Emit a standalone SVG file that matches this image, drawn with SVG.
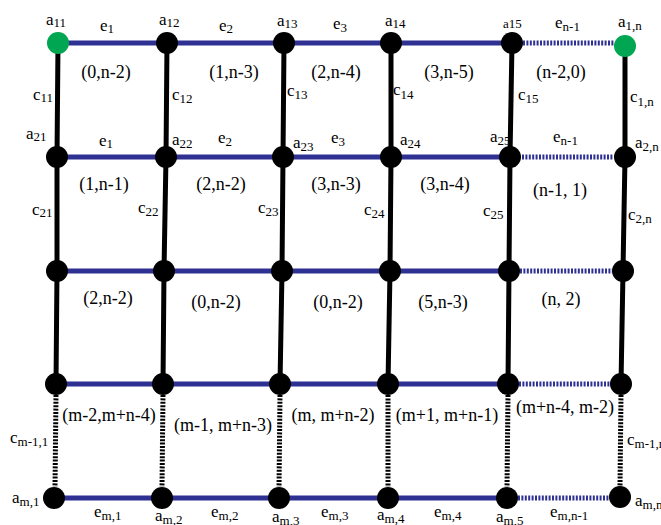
<svg xmlns="http://www.w3.org/2000/svg" width="661" height="525" viewBox="0 0 661 525">
<style>
text{font-family:"Liberation Serif","Times New Roman",serif;fill:#000}
.m{font-size:17px}
.f{font-size:18px}
.s{font-size:13px}
.sm{font-size:13px}
.h{stroke:#2e3192;stroke-width:5;fill:none}
.hd{stroke:#2e3192;stroke-width:5;fill:none;stroke-dasharray:2 1.4}
.v{stroke:#000;stroke-width:5;fill:none}
.vd{stroke:#000;stroke-width:5;fill:none;stroke-dasharray:2 1.4}
.n{fill:#000}
.g{fill:#00a651}
</style>
<rect width="661" height="525" fill="#fff"/>
<g id="connectors">
<!-- horizontal row 1 -->
<line class="h" x1="58" y1="43" x2="512" y2="43"/>
<line class="hd" x1="523" y1="43" x2="614" y2="43"/>
<!-- row 2 -->
<line class="h" x1="57" y1="157" x2="511" y2="157"/>
<line class="hd" x1="522" y1="157" x2="613" y2="157"/>
<!-- row 3 -->
<line class="h" x1="57" y1="271" x2="509" y2="271"/>
<line class="hd" x1="520" y1="271" x2="612" y2="271"/>
<!-- row 4 -->
<line class="h" x1="56" y1="384" x2="508" y2="384"/>
<line class="hd" x1="519" y1="384" x2="610" y2="384"/>
<!-- row 5 -->
<line class="h" x1="54" y1="498" x2="507" y2="498"/>
<line class="hd" x1="518" y1="498" x2="609" y2="498"/>
<!-- vertical solid rows 1-4 -->
<polyline class="v" points="58,43 57,157 57,271 56,384"/>
<polyline class="v" points="167,43 166,157 164,271 163,384"/>
<polyline class="v" points="284,43 283,157 282,271 280,384"/>
<polyline class="v" points="391,43 391,157 390,271 388,384"/>
<polyline class="v" points="512,43 510,157 509,271 508,384"/>
<polyline class="v" points="625,43 625,157 623,271 621,384"/>
<!-- vertical dotted rows 4-5 -->
<line class="vd" x1="56" y1="395" x2="55" y2="487"/>
<line class="vd" x1="163" y1="395" x2="162" y2="487"/>
<line class="vd" x1="280" y1="395" x2="279" y2="487"/>
<line class="vd" x1="388" y1="395" x2="388" y2="487"/>
<line class="vd" x1="508" y1="395" x2="507" y2="487"/>
<line class="vd" x1="621" y1="395" x2="620" y2="487"/>
</g>
<g id="edge-labels">
<text class="m" x="100" y="31">e<tspan class="s" dy="2">1</tspan></text>
<text class="m" x="219" y="31">e<tspan class="s" dy="2">2</tspan></text>
<text class="m" x="333" y="29">e<tspan class="s" dy="3">3</tspan></text>
<text class="m" x="555" y="28">e<tspan class="s" dy="3">n-1</tspan></text>
<text class="m" x="99" y="146">e<tspan class="s" dy="2">1</tspan></text>
<text class="m" x="218" y="143">e<tspan class="s" dy="3">2</tspan></text>
<text class="m" x="331" y="143">e<tspan class="s" dy="3">3</tspan></text>
<text class="m" x="553" y="142">e<tspan class="s" dy="3">n-1</tspan></text>
<text class="m" x="33" y="100">c<tspan class="s" dy="2">11</tspan></text>
<text class="m" x="172" y="100">c<tspan class="s" dy="3">12</tspan></text>
<text class="m" x="287" y="96">c<tspan class="s" dy="3">13</tspan></text>
<text class="m" x="393" y="95">c<tspan class="s" dy="4">14</tspan></text>
<text class="m" x="518" y="100">c<tspan class="s" dy="3">15</tspan></text>
<text class="m" x="630" y="102">c<tspan class="s" dy="4">1,n</tspan></text>
<text class="m" x="32" y="215">c<tspan class="s" dy="2">21</tspan></text>
<text class="m" x="138" y="213">c<tspan class="s" dy="3">22</tspan></text>
<text class="m" x="258" y="213">c<tspan class="s" dy="3">23</tspan></text>
<text class="m" x="364" y="215">c<tspan class="s" dy="3">24</tspan></text>
<text class="m" x="483" y="216">c<tspan class="s" dy="3">25</tspan></text>
<text class="m" x="628" y="220">c<tspan class="s" dy="3">2,n</tspan></text>
<text class="m" x="10" y="443">c<tspan class="s" dy="3">m-1,1</tspan></text>
<text class="m" x="627" y="445">c<tspan class="s" dy="3">m-1,n</tspan></text>
<text class="m" x="94" y="517">e<tspan class="s" dy="3">m,1</tspan></text>
<text class="m" x="211" y="517">e<tspan class="s" dy="3">m,2</tspan></text>
<text class="m" x="321" y="517">e<tspan class="s" dy="3">m,3</tspan></text>
<text class="m" x="434" y="517">e<tspan class="s" dy="3">m,4</tspan></text>
<text class="m" x="550" y="517">e<tspan class="s" dy="3">m,n-1</tspan></text>
</g>
<g id="face-labels" text-anchor="middle">
<text class="f" x="106" y="78">(0,n-2)</text>
<text class="f" x="234" y="78">(1,n-3)</text>
<text class="f" x="336" y="78">(2,n-4)</text>
<text class="f" x="449" y="78">(3,n-5)</text>
<text class="f" x="561" y="78">(n-2,0)</text>
<text class="f" x="104" y="190">(1,n-1)</text>
<text class="f" x="221" y="190">(2,n-2)</text>
<text class="f" x="336" y="190">(3,n-3)</text>
<text class="f" x="445" y="190">(3,n-4)</text>
<text class="f" x="560" y="196">(n-1, 1)</text>
<text class="f" x="108" y="304">(2,n-2)</text>
<text class="f" x="216" y="308">(0,n-2)</text>
<text class="f" x="338" y="308">(0,n-2)</text>
<text class="f" x="443" y="308">(5,n-3)</text>
<text class="f" x="561" y="305">(n, 2)</text>
<text class="f" x="109" y="421">(m-2,m+n-4)</text>
<text class="f" x="223" y="431">(m-1, m+n-3)</text>
<text class="f" x="333" y="421">(m, m+n-2)</text>
<text class="f" x="447" y="421">(m+1, m+n-1)</text>
<text class="f" x="565" y="413">(m+n-4, m-2)</text>
</g>
<g id="a11"><circle class="g" cx="58" cy="43" r="11"/><text class="m" x="46" y="25">a<tspan class="s" dy="2">11</tspan></text></g>
<g id="a12"><circle class="n" cx="167" cy="43" r="11"/><text class="m" x="159" y="25">a<tspan class="s" dy="2">12</tspan></text></g>
<g id="a13"><circle class="n" cx="284" cy="43" r="11"/><text class="m" x="277" y="26">a<tspan class="s" dy="2">13</tspan></text></g>
<g id="a14"><circle class="n" cx="391" cy="43" r="11"/><text class="m" x="385" y="26">a<tspan class="s" dy="2">14</tspan></text></g>
<g id="a15"><circle class="n" cx="512" cy="43" r="11"/><text class="sm" x="503" y="28">a15</text></g>
<g id="a1n"><circle class="g" cx="625" cy="46" r="11"/><text class="m" x="618" y="27">a<tspan class="s" dy="3">1,n</tspan></text></g>
<g id="a21"><circle class="n" cx="57" cy="157" r="11"/><text class="m" x="26" y="139">a<tspan class="s" dy="2">21</tspan></text></g>
<g id="a22"><circle class="n" cx="166" cy="157" r="11"/><text class="m" x="172" y="145">a<tspan class="s" dy="3">22</tspan></text></g>
<g id="a23"><circle class="n" cx="283" cy="157" r="11"/><text class="m" x="293" y="148">a<tspan class="s" dy="3">23</tspan></text></g>
<g id="a24"><circle class="n" cx="391" cy="157" r="11"/><text class="m" x="400" y="145">a<tspan class="s" dy="3">24</tspan></text></g>
<g id="a25"><text class="m" x="490" y="142">a<tspan class="s" dy="3">25</tspan></text><circle class="n" cx="510" cy="157" r="11"/></g>
<g id="a2n"><circle class="n" cx="625" cy="157" r="11"/><text class="m" x="635" y="148">a<tspan class="s" dy="3">2,n</tspan></text></g>
<g id="a31"><circle class="n" cx="57" cy="271" r="11"/></g>
<g id="a32"><circle class="n" cx="164" cy="271" r="11"/></g>
<g id="a33"><circle class="n" cx="282" cy="271" r="11"/></g>
<g id="a34"><circle class="n" cx="390" cy="271" r="11"/></g>
<g id="a35"><circle class="n" cx="509" cy="271" r="11"/></g>
<g id="a3n"><circle class="n" cx="623" cy="271" r="11"/></g>
<g id="a41"><circle class="n" cx="56" cy="384" r="11"/></g>
<g id="a42"><circle class="n" cx="163" cy="384" r="11"/></g>
<g id="a43"><circle class="n" cx="280" cy="384" r="11"/></g>
<g id="a44"><circle class="n" cx="388" cy="384" r="11"/></g>
<g id="a45"><circle class="n" cx="508" cy="384" r="11"/></g>
<g id="a4n"><circle class="n" cx="621" cy="384" r="11"/></g>
<g id="am1"><circle class="n" cx="54" cy="498" r="11"/><text class="m" x="12" y="503">a<tspan class="s" dy="3">m,1</tspan></text></g>
<g id="am2"><circle class="n" cx="162" cy="498" r="11"/><text class="m" x="155" y="521">a<tspan class="s" dy="3">m,2</tspan></text></g>
<g id="am3"><circle class="n" cx="279" cy="498" r="11"/><text class="m" x="272" y="522">a<tspan class="s" dy="3">m,3</tspan></text></g>
<g id="am4"><circle class="n" cx="388" cy="498" r="11"/><text class="m" x="377" y="520">a<tspan class="s" dy="3">m,4</tspan></text></g>
<g id="am5"><circle class="n" cx="507" cy="498" r="11"/><text class="m" x="496" y="522">a<tspan class="s" dy="3">m,5</tspan></text></g>
<g id="amn"><circle class="n" cx="620" cy="497" r="11"/><text class="m" x="635" y="506">a<tspan class="s" dy="3">m,n</tspan></text></g>
</svg>
